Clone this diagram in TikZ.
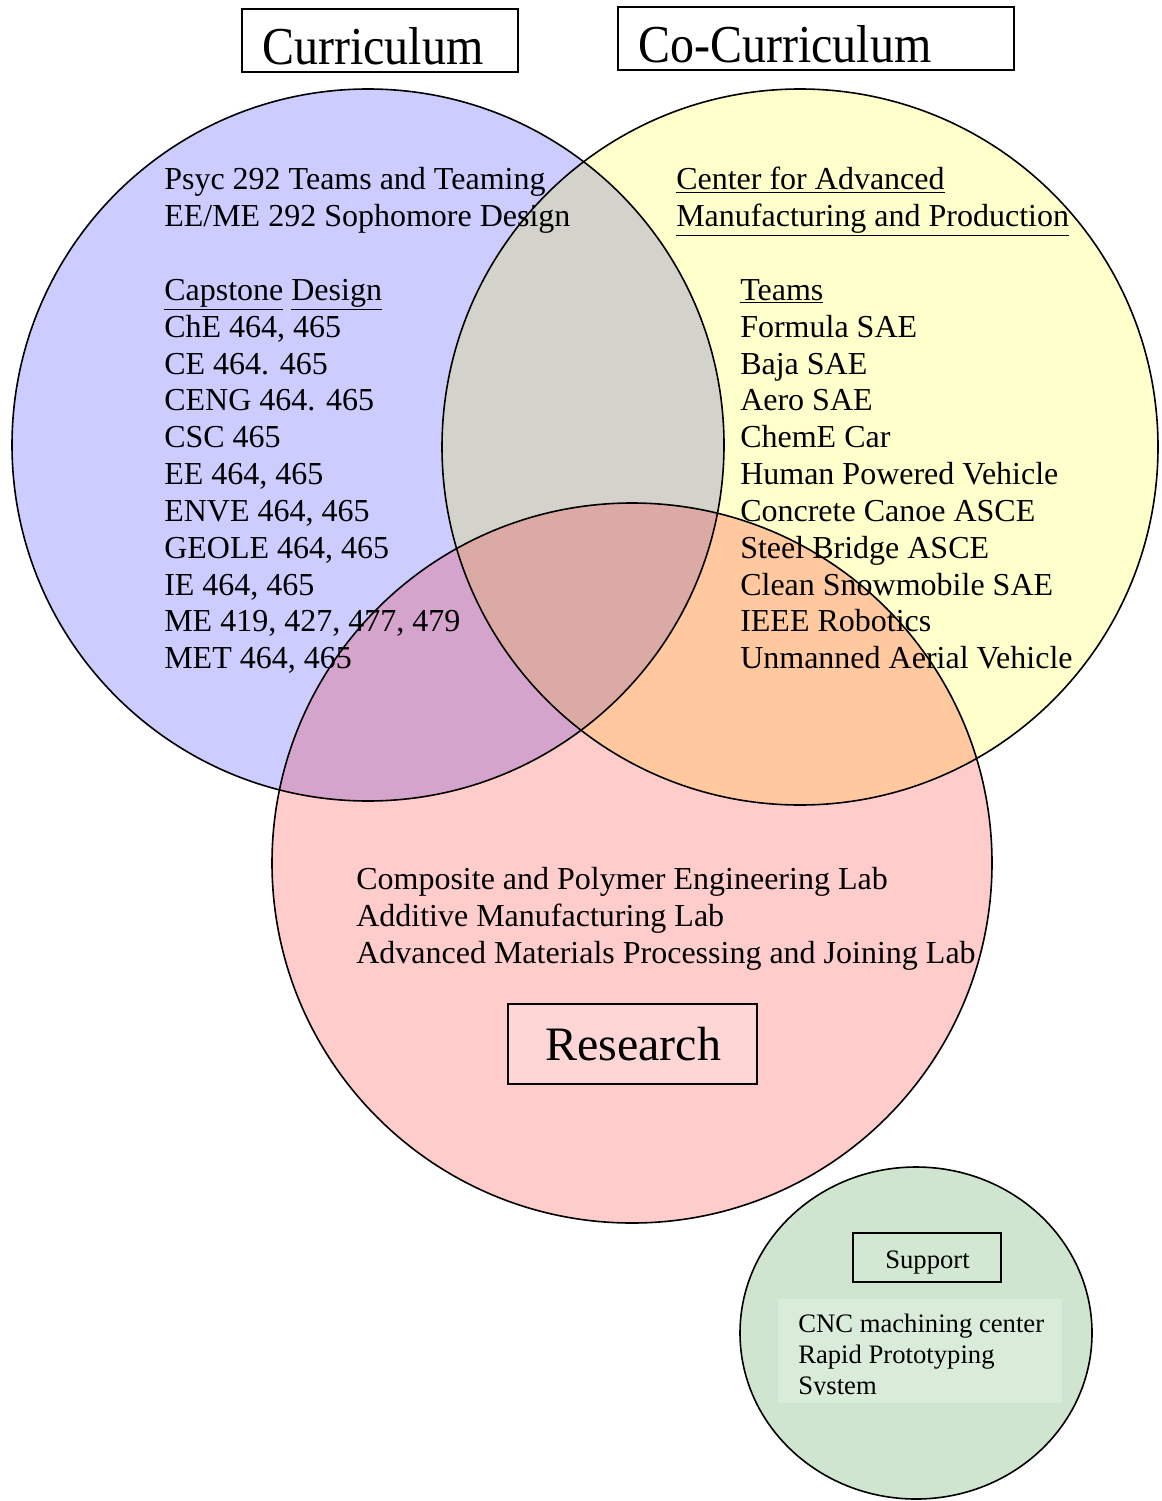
\documentclass[tikz,border=0pt]{standalone}
\usepackage{fontspec}
\setmainfont{Liberation Serif}
\definecolor{cB}{HTML}{CCCCFF}
\definecolor{cY}{HTML}{FFFFCC}
\definecolor{cR}{HTML}{FFCCCC}
\definecolor{cG}{HTML}{CFE5CF}
\definecolor{cBY}{HTML}{D3D3CB}
\definecolor{cBR}{HTML}{D4A4CC}
\definecolor{cYR}{HTML}{FFC89E}
\definecolor{cBYR}{HTML}{DCAAA4}
\definecolor{cResBox}{HTML}{FFD6D6}
\definecolor{cSupBox}{HTML}{D3E8D3}
\definecolor{cCncBox}{HTML}{D9EBD9}
\begin{document}
\begin{tikzpicture}[x=0.75pt,y=-0.75pt,
  txt/.style={inner sep=0pt, anchor=base west, font=\fontsize{24}{28}\selectfont},
  smalltxt/.style={inner sep=0pt, anchor=base west, font=\fontsize{20}{24}\selectfont},
  titletxt/.style={inner sep=0pt, anchor=base west, font=\fontsize{40}{48}\selectfont},
  restxt/.style={inner sep=0pt, anchor=base west, font=\fontsize{36}{42}\selectfont},
  outline/.style={draw=black, line width=1.2pt},
  boxline/.style={draw=black, line width=1pt}]
\useasboundingbox (0,0) rectangle (1161,1501);
% circles
\coordinate (Bc) at (368,445);
\coordinate (Yc) at (800,447);
\coordinate (Rc) at (632,863);
\coordinate (Gc) at (916,1333);
\fill[cB] (Bc) circle [radius=267pt];
\fill[cY] (Yc) circle [radius=268.5pt];
\fill[cR] (Rc) circle [radius=270pt];
\begin{scope}
  \clip (Bc) circle [radius=267pt];
  \fill[cBY] (Yc) circle [radius=268.5pt];
\end{scope}
\begin{scope}
  \clip (Bc) circle [radius=267pt];
  \fill[cBR] (Rc) circle [radius=270pt];
\end{scope}
\begin{scope}
  \clip (Yc) circle [radius=268.5pt];
  \fill[cYR] (Rc) circle [radius=270pt];
\end{scope}
\begin{scope}
  \clip (Bc) circle [radius=267pt];
  \clip (Yc) circle [radius=268.5pt];
  \fill[cBYR] (Rc) circle [radius=270pt];
\end{scope}
\draw[outline] (Bc) circle [radius=267pt];
\draw[outline] (Yc) circle [radius=268.5pt];
\draw[outline] (Rc) circle [radius=270pt];
\draw[outline, fill=cG] (Gc) ellipse [x radius=132pt, y radius=124.5pt];
% title boxes
\draw[boxline, fill=white] (242,9) rectangle (518,72);
\node[titletxt] (cur) at (262,65) {\scalebox{0.9}[1]{Curriculum}};
\draw[boxline, fill=white] (618,7) rectangle (1014,70);
\node[titletxt] (cocur) at (638,63) {\scalebox{0.9}[1]{Co-Curriculum}};
% left column
\foreach \t/\k in {{Psyc 292 Teams and Teaming}/0,{EE/ME 292 Sophomore Design}/1,
  {\underline{Capstone} \underline{Design}}/3,{ChE 464, 465}/4,{CE 464. 465}/5,
  {CENG 464. 465}/6,{CSC 465}/7,{EE 464, 465}/8,{ENVE 464, 465}/9,
  {GEOLE 464, 465}/10,{IE 464, 465}/11,{ME 419, 427, 477, 479}/12,{MET 464, 465}/13}
  \node[txt] (L\k) at (164,190+36.83*\k) {\t};
% right column
\node[txt] (R0) at (676,190) {\underline{Center for Advanced}};
\node[txt] (R1) at (676,226.83) {\underline{Manufacturing and Production}};
\foreach \t/\k in {{\underline{Teams}}/3,{Formula SAE}/4,{Baja SAE}/5,{Aero SAE}/6,
  {ChemE Car}/7,{Human Powered Vehicle}/8,{Concrete Canoe ASCE}/9,
  {Steel Bridge ASCE}/10,{Clean Snowmobile SAE}/11,{IEEE Robotics}/12,
  {Unmanned Aerial Vehicle}/13}
  \node[txt] (R\k) at (740,190+36.83*\k) {\t};
% research
\node[txt] (S0) at (356,889) {Composite and Polymer Engineering Lab};
\node[txt] (S1) at (356,926) {Additive Manufacturing Lab};
\node[txt] (S2) at (356,963) {Advanced Materials Processing and Joining Lab};
\draw[boxline, fill=cResBox] (508,1004) rectangle (757,1084);
\node[restxt] (res) at (545,1060) {Research};
% support
\draw[boxline, fill=cSupBox] (853,1233) rectangle (1001,1282);
\node[smalltxt] (sup) at (885,1268) {Support};
\fill[cCncBox] (778,1299) rectangle (1062,1403);
\begin{scope}
  \clip (778,1299) rectangle (1062,1394);
  \node[smalltxt] (C0) at (798,1332) {CNC machining center};
  \node[smalltxt] (C1) at (798,1363) {Rapid Prototyping};
  \node[smalltxt] (C2) at (798,1394) {System};
\end{scope}
\end{tikzpicture}
\end{document}
